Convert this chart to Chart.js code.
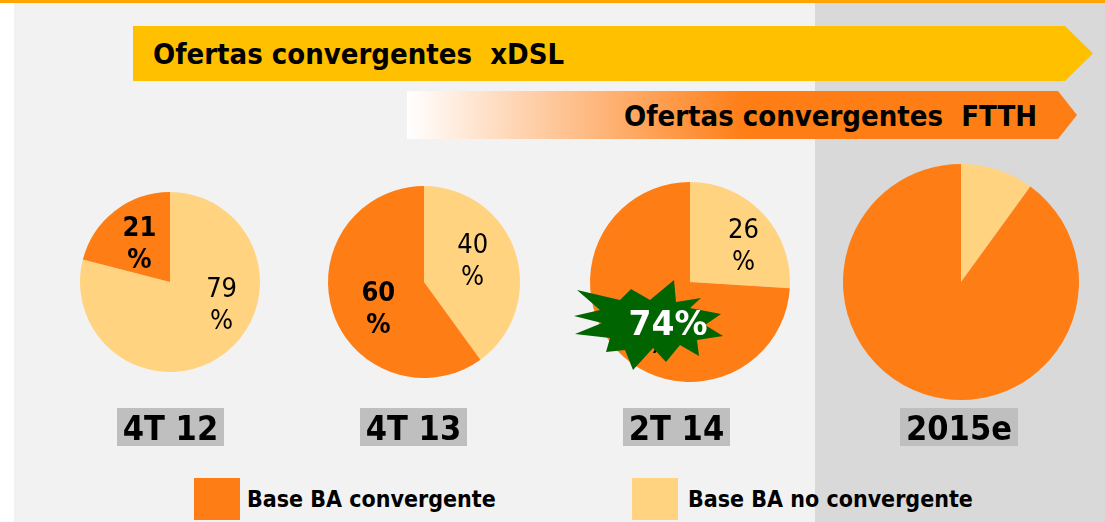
<!DOCTYPE html>
<html>
<head>
<meta charset="utf-8">
<script src="https://cdn.jsdelivr.net/npm/chart.js@4.4.1/dist/chart.umd.min.js"></script>
<style>
  body {
    margin: 0; width: 1105px; height: 522px; position: relative; overflow: hidden; background: #fff;
    font-family: "DejaVu Sans Condensed", "DejaVu Sans", sans-serif;
  }
  .abs { position: absolute; }
  .banner { font-size: 29px; line-height: 29px; font-weight: bold; white-space: pre; color: #000; }
  .period { top: 408px; height: 38px; background: #bfbfbf; font-size: 34px; line-height: 38px;
    padding-top: 1px; box-sizing: border-box; font-weight: bold; text-align: center; white-space: pre; }
  .legend-box { width: 46px; height: 42px; top: 478px; }
  .legend-text { top: 488px; font-size: 23px; line-height: 23px; font-weight: bold; white-space: pre; }
</style>
</head>
<body>
<div class="abs" style="left:0;top:0;width:1105px;height:3px;background:#fea500"></div>
<div class="abs" style="left:14px;top:3px;width:801px;height:519px;background:#f2f2f2"></div>
<div class="abs" style="left:815px;top:3px;width:290px;height:519px;background:#d9d9d9"></div>

<div class="abs" style="left:133px;top:26px;width:960px;height:55px;background:#ffc000;
  clip-path:polygon(0 0,932px 0,960px 27.5px,932px 55px,0 55px)"></div>
<div class="abs banner" style="left:153px;top:39.5px">Ofertas convergentes  xDSL</div>

<div class="abs" style="left:407px;top:91px;width:670px;height:48px;
  background:linear-gradient(to right,#ffffff 0px,#fe7d15 340px);
  clip-path:polygon(0 0,651px 0,670px 24px,651px 48px,0 48px)"></div>
<div class="abs banner" style="left:624px;top:102px">Ofertas convergentes  FTTH</div>

<div id="stage"></div>

<script>
// data
const periods = ['4T 12', '4T 13', '2T 14', '2015e'];
const convergente = [21, 60, 74, 90];
const noConvergente = [79, 40, 26, 10];
const seriesNames = ['Base BA convergente', 'Base BA no convergente'];

const ORANGE = '#fe7d15';
const LIGHT = '#ffd380';
const FONT = '"DejaVu Sans Condensed", "DejaVu Sans", sans-serif';

// where each pie sits and how its labels are nudged
const pies = [
  { cx: 170, cy: 282, r: 90, labels: true, shift: [[24, -15], [-3, -4]] },
  { cx: 424, cy: 282, r: 96, labels: true, shift: [[3, -8], [0, 10]] },
  { cx: 690, cy: 282, r: 100, labels: true, shift: [[17, -4], [6, 11]], star: true },
  { cx: 961, cy: 282, r: 118, labels: false }
];
const periodBoxes = [[117, 224], [360, 467], [623, 730], [900, 1018]];
const PAD = 45;

// star outline, offsets from the star centre
const starShape = [
  [25, -45], [27, -23], [52, -27], [41, -17], [72, -11], [56, 0], [74, 11], [48, 15],
  [50, 31], [31, 20], [17, 37], [4, 23], [-16, 45], [-24, 25], [-43, 27], [-39, 13],
  [-74, 9], [-47, -2], [-75, -9], [-49, -15], [-72, -35], [-29, -25], [-18, -36], [1, -25]
];

const sliceLabels = {
  id: 'sliceLabels',
  afterDatasetsDraw(chart, args, opts) {
    if (!opts.show) return;
    const ctx = chart.ctx;
    const values = chart.data.datasets[0].data;
    chart.getDatasetMeta(0).data.forEach((arc, i) => {
      const p = arc.tooltipPosition(true);
      const x = p.x + opts.shift[i][0];
      const y = p.y + opts.shift[i][1];
      ctx.save();
      ctx.fillStyle = '#000';
      ctx.font = (i === 1 ? 'bold ' : '') + '27px ' + FONT;
      ctx.textAlign = 'center';
      ctx.textBaseline = 'alphabetic';
      ctx.fillText(String(values[i]), x, y - 6);
      ctx.fillText('%', x, y + 26);
      ctx.restore();
    });
  }
};

const starBurst = {
  id: 'starBurst',
  afterDraw(chart, args, opts) {
    if (!opts.show) return;
    const ctx = chart.ctx;
    const meta = chart.getDatasetMeta(0);
    const c = meta.data[1];
    const sx = c.x - 41, sy = c.y + 43;
    ctx.save();
    ctx.beginPath();
    starShape.forEach(([dx, dy], i) => {
      if (i === 0) ctx.moveTo(sx + dx, sy + dy);
      else ctx.lineTo(sx + dx, sy + dy);
    });
    ctx.closePath();
    ctx.fillStyle = '#006400';
    ctx.fill();
    ctx.fillStyle = '#fff';
    ctx.font = 'bold 33px "DejaVu Sans", sans-serif';
    ctx.textAlign = 'center';
    ctx.textBaseline = 'alphabetic';
    ctx.fillText(opts.text, sx + 19, sy + 10);
    ctx.restore();
  }
};

const stage = document.getElementById('stage');

pies.forEach((p, i) => {
  const size = 2 * p.r + 2 * PAD;
  const canvas = document.createElement('canvas');
  canvas.width = size;
  canvas.height = size;
  canvas.className = 'abs';
  canvas.style.left = (p.cx - p.r - PAD) + 'px';
  canvas.style.top = (p.cy - p.r - PAD) + 'px';
  stage.appendChild(canvas);

  new Chart(canvas, {
    type: 'pie',
    data: {
      labels: [seriesNames[1], seriesNames[0]],
      datasets: [{
        data: [noConvergente[i], convergente[i]],
        backgroundColor: [LIGHT, ORANGE],
        borderWidth: 0,
        hoverBorderWidth: 0,
        hoverOffset: 0
      }]
    },
    options: {
      responsive: false,
      animation: false,
      events: [],
      layout: { padding: PAD },
      plugins: {
        legend: { display: false },
        tooltip: { enabled: false },
        sliceLabels: { show: p.labels, shift: p.shift },
        starBurst: { show: !!p.star, text: convergente[i] + '%' }
      }
    },
    plugins: [sliceLabels, starBurst]
  });

  const box = document.createElement('div');
  box.className = 'abs period';
  box.style.left = periodBoxes[i][0] + 'px';
  box.style.width = (periodBoxes[i][1] - periodBoxes[i][0]) + 'px';
  box.textContent = periods[i];
  stage.appendChild(box);
});

// legend
[[194, 247, ORANGE], [632, 688, LIGHT]].forEach(([bx, tx, color], i) => {
  const sq = document.createElement('div');
  sq.className = 'abs legend-box';
  sq.style.left = bx + 'px';
  sq.style.background = color;
  stage.appendChild(sq);
  const t = document.createElement('div');
  t.className = 'abs legend-text';
  t.style.left = tx + 'px';
  t.textContent = seriesNames[i];
  stage.appendChild(t);
});
</script>
</body>
</html>
